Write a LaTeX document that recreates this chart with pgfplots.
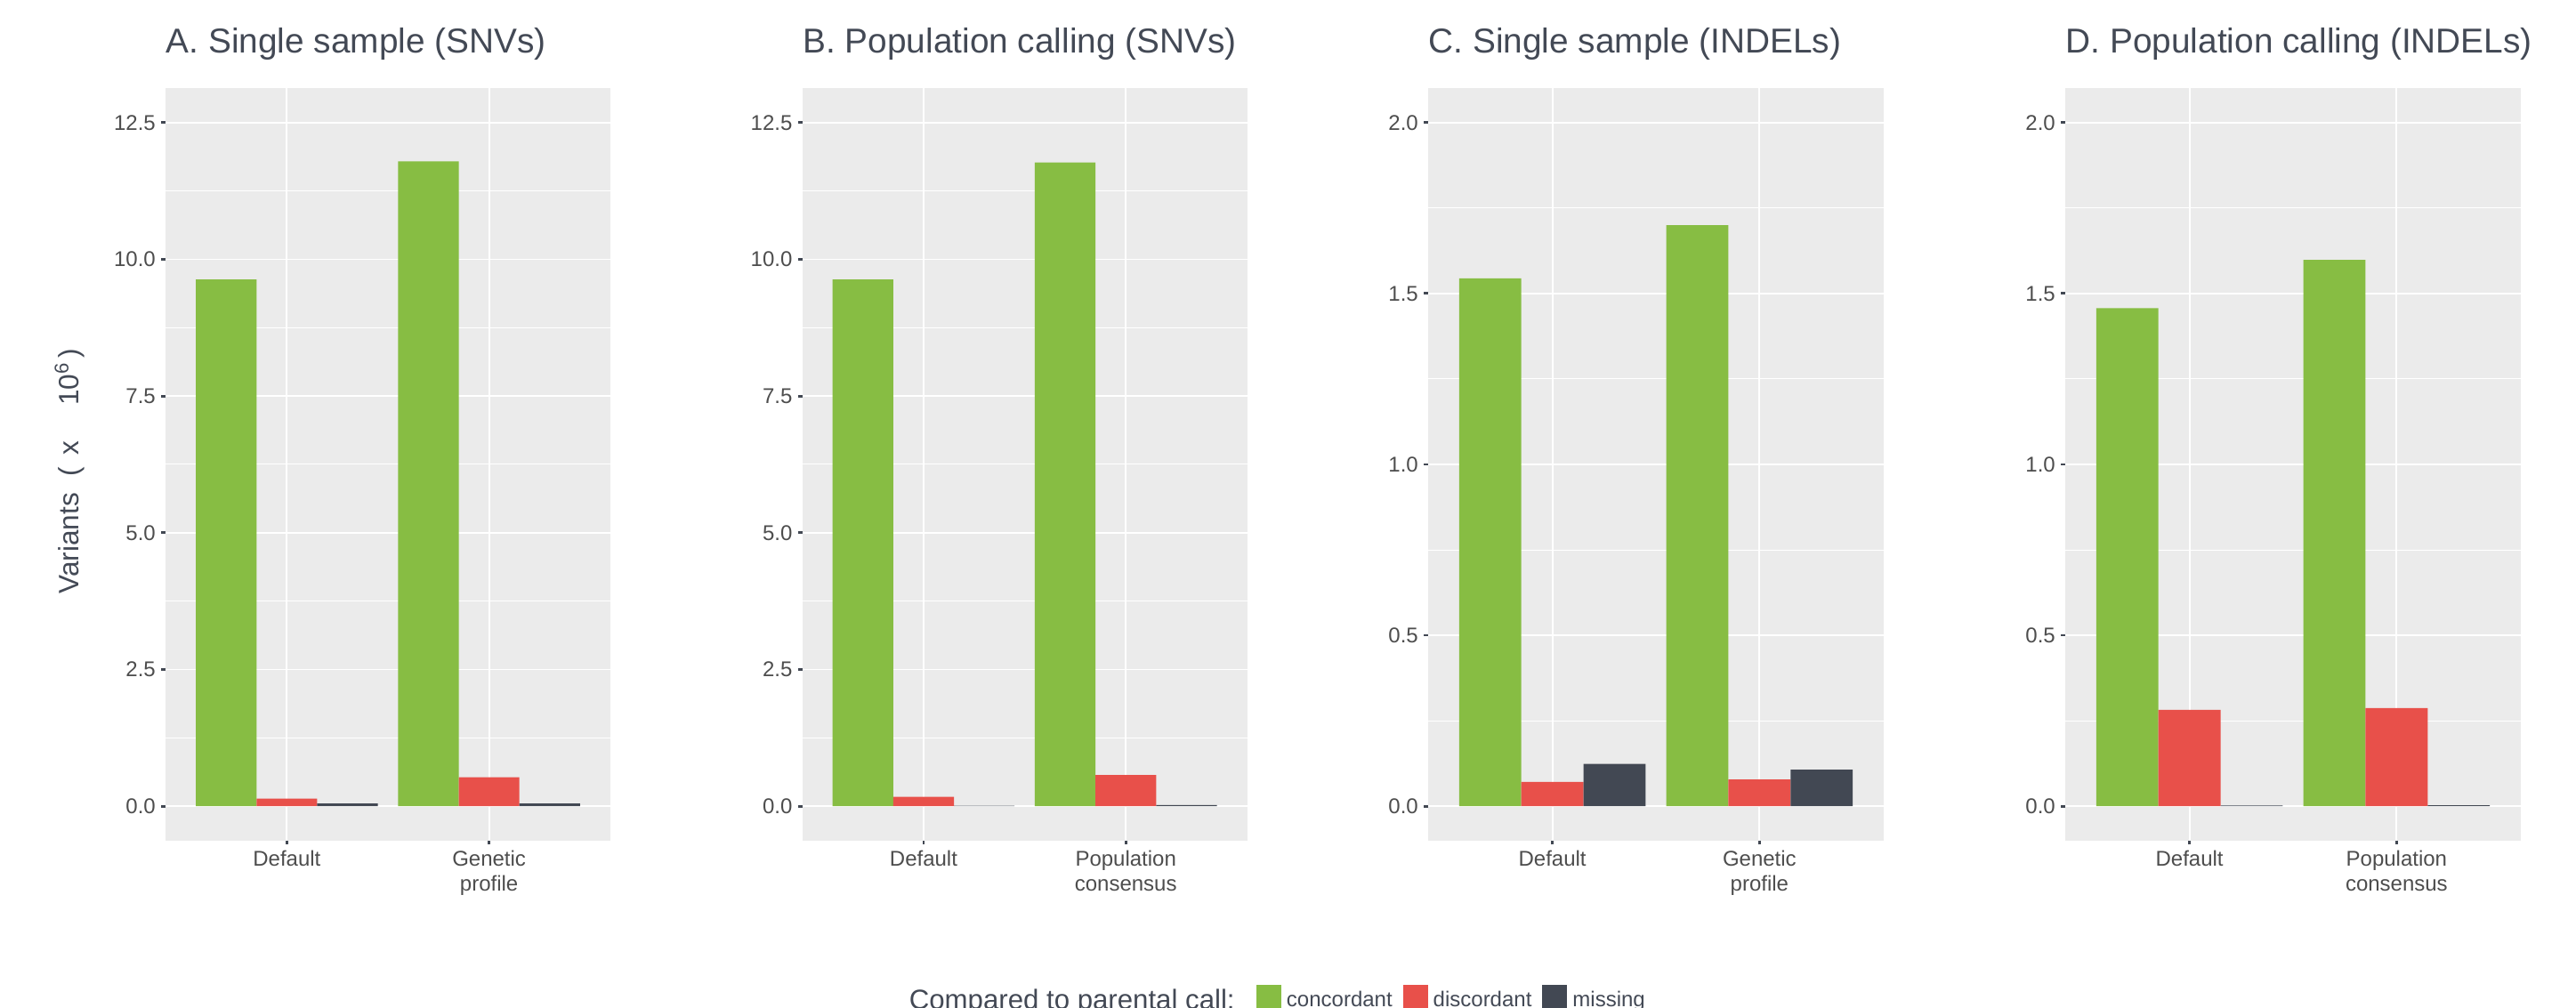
\documentclass[border=0pt]{standalone}
\usepackage{pgfplots}
\pgfplotsset{compat=1.18}
\usepackage{fontspec}
\setmainfont{Liberation Sans}
\definecolor{bg}{HTML}{EBEBEB}
\definecolor{cgreen}{HTML}{87BD43}
\definecolor{cred}{HTML}{E8504A}
\definecolor{cdark}{HTML}{424853}
\definecolor{ttl}{HTML}{434955}
\definecolor{tck}{HTML}{4D4D4D}
\pgfplotsset{
  ybar legend/.style={legend image code/.code={\fill[##1] (0pt,-0.9pt) rectangle (7pt,6.1pt);}},
  panel/.style={
    scale only axis, height=211.3pt, anchor=south west,
    xmin=0.4, xmax=2.6, xtick={1,2},
    axis background/.style={fill=bg},
    axis line style={draw=none},
    xmajorgrids, ymajorgrids, yminorgrids,
    major grid style={white, line width=0.45pt},
    minor grid style={white, line width=0.25pt},
    tick pos=left, tick align=outside,
    major tick length=1.2pt, minor tick length=0pt,
    major tick style={cdark, line width=0.7pt},
    /pgf/number format/assume math mode=true,
    ticklabel style={font=\fontsize{6}{7}\selectfont, text=tck},
    xticklabel style={align=center, anchor=north, inner sep=0pt, yshift=-1.6pt},
    yticklabel style={/pgf/number format/fixed, /pgf/number format/fixed zerofill, /pgf/number format/precision=1, inner sep=1.4pt},
    title style={at={(axis description cs:0,1)}, anchor=base west, yshift=4pt, inner sep=0pt, font=\fontsize{9.7}{11}\selectfont, text=ttl},
    ybar, bar width=0.3,
  },
  snv/.style={ymin=-0.625, ymax=13.125, ytick={0,2.5,5,7.5,10,12.5}, minor ytick={1.25,3.75,6.25,8.75,11.25}},
  indel/.style={ymin=-0.1, ymax=2.1, ytick={0,0.5,1,1.5,2}, minor ytick={0.25,0.75,1.25,1.75}},
}
\begin{document}
\begin{tikzpicture}
% A
\begin{axis}[panel, snv, width=125pt, at={(46.5pt,47.1pt)},
  title={A. Single sample (SNVs)},
  xticklabels={Default,{Genetic\\profile}},
  ylabel={Variants\hspace{4.5pt}(\hspace{3.5pt}x\hspace{10pt}10\textsuperscript{6}\hspace{1pt})},
  ylabel style={at={(axis description cs:-0.216,0.491)}, anchor=center, font=\fontsize{7.9}{9}\selectfont, text=ttl},
  legend columns=-1,
  legend style={at={(axis description cs:2.452,-0.1921)}, anchor=north west, draw=none, fill=none,
    inner sep=0pt, outer sep=0pt, font=\fontsize{6}{7}\selectfont, text=ttl,
    nodes={inner sep=0pt, text depth=0pt},
    cells={anchor=base west},
    /tikz/every odd column/.append style={column sep=1.5pt},
    /tikz/every even column/.append style={column sep=3pt}},
]
\addplot[fill=cgreen, draw=none, bar shift=-0.3] coordinates {(1,9.63) (2,11.79)};
\addplot[fill=cred, draw=none, bar shift=0] coordinates {(1,0.14) (2,0.53)};
\addplot[fill=cdark, draw=none, bar shift=0.3] coordinates {(1,0.05) (2,0.05)};
\legend{concordant,discordant,missing}
\end{axis}
% B
\begin{axis}[panel, snv, width=125pt, at={(225.4pt,47.1pt)},
  title={B. Population calling (SNVs)},
  xticklabels={Default,{Population\\consensus}},
]
\addplot[fill=cgreen, draw=none, bar shift=-0.3] coordinates {(1,9.63) (2,11.77)};
\addplot[fill=cred, draw=none, bar shift=0] coordinates {(1,0.17) (2,0.57)};
\addplot[fill=cdark, draw=none, bar shift=0.3] coordinates {(1,0.008) (2,0.02)};
\end{axis}
% C
\begin{axis}[panel, indel, width=128pt, at={(401.25pt,47.1pt)},
  title={C. Single sample (INDELs)},
  xticklabels={Default,{Genetic\\profile}},
]
\addplot[fill=cgreen, draw=none, bar shift=-0.3] coordinates {(1,1.544) (2,1.70)};
\addplot[fill=cred, draw=none, bar shift=0] coordinates {(1,0.071) (2,0.078)};
\addplot[fill=cdark, draw=none, bar shift=0.3] coordinates {(1,0.124) (2,0.107)};
\end{axis}
% D
\begin{axis}[panel, indel, width=128pt, at={(580.25pt,47.1pt)},
  title={D. Population calling (INDELs)},
  xticklabels={Default,{Population\\consensus}},
]
\addplot[fill=cgreen, draw=none, bar shift=-0.3] coordinates {(1,1.457) (2,1.598)};
\addplot[fill=cred, draw=none, bar shift=0] coordinates {(1,0.282) (2,0.287)};
\addplot[fill=cdark, draw=none, bar shift=0.3] coordinates {(1,0.002) (2,0.003)};
\end{axis}
\node[anchor=base west, inner sep=0pt, font=\fontsize{7.8}{9}\selectfont, text=ttl] at (255.25pt,-0.3pt) {Compared to parental call:};
\pgfresetboundingbox
\useasboundingbox (0pt,0pt) rectangle (723.75pt,283.25pt);
\end{tikzpicture}
\end{document}
